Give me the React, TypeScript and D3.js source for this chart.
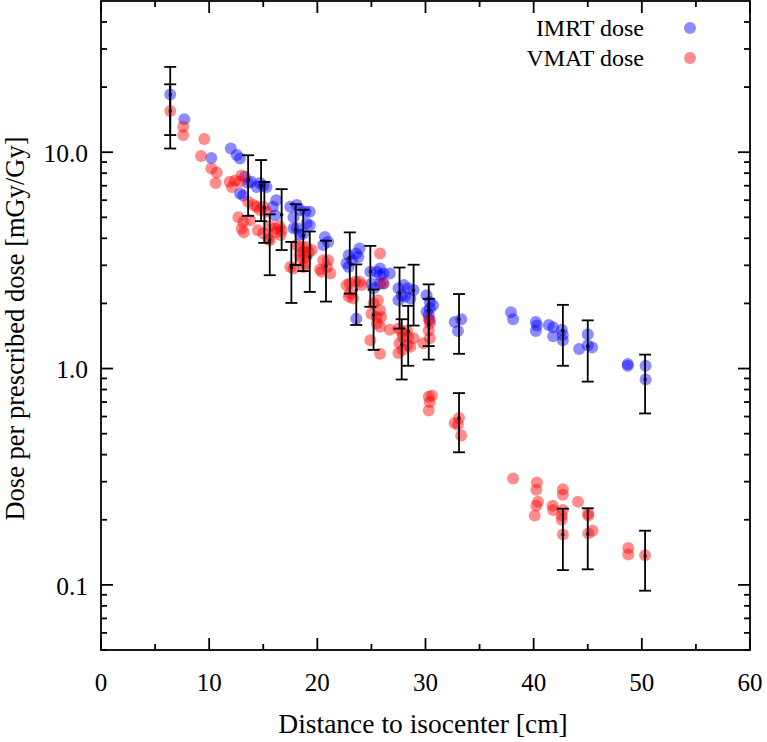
import React from "react";
import * as d3 from "d3";

// IMRT dose points [distance cm, dose mGy/Gy]
const imrtX = [6.4, 7.7, 10.2, 12.0, 12.55, 12.85, 13.3, 13.6, 13.9, 14.4, 14.7, 15.0, 15.3, 12.85, 13.15, 16.2, 15.9, 16.1, 17.5, 17.8, 18.1, 18.4, 18.9, 19.3, 18.1, 17.8, 19.0, 18.4, 19.3, 18.7, 20.7, 21.0, 20.55,
  22.9, 23.2, 23.6, 23.9, 23.8, 22.7, 22.9, 23.6,
  24.9, 25.5, 25.8, 25.8, 26.1, 26.7, 25.0, 25.2, 25.8, 26.1,
  27.5, 28.0, 28.4, 28.9, 27.8, 28.1, 28.6, 27.5,
  30.1, 30.4, 30.7, 30.1, 30.3, 30.4, 30.4,
  32.7, 33.3, 33.0, 37.9, 38.1,
  40.2, 40.3, 40.2, 41.4, 41.8, 41.8, 42.6, 42.7, 42.7,
  44.2, 45.0, 45.0, 45.4, 48.7, 48.7, 50.35, 50.35];
const imrtY = [18.5, 14.2, 9.4, 10.4, 9.7, 9.35, 7.7, 7.2, 7.3, 6.9, 7.2, 7.0, 6.9, 6.45, 6.3, 6.0, 5.6, 5.1, 5.6, 5.0, 5.7, 5.4, 5.3, 5.3, 4.45, 4.45, 4.7, 4.15, 4.6, 4.2, 4.06, 3.85, 3.72,
  3.34, 3.17, 3.40, 3.59, 3.28, 3.06, 2.95, 1.70,
  2.80, 2.80, 2.90, 2.70, 2.75, 2.75, 2.47, 2.35, 2.47, 2.47,
  2.35, 2.43, 2.35, 2.31, 2.18, 2.15, 2.11, 2.07,
  2.18, 2.03, 1.96, 1.83, 1.77, 1.67, 1.90,
  1.64, 1.69, 1.49, 1.82, 1.69,
  1.64, 1.58, 1.49, 1.59, 1.55, 1.41, 1.51, 1.43, 1.35,
  1.23, 1.44, 1.28, 1.25, 1.05, 1.03, 1.03, 0.89];

// VMAT dose points
const vmatX = [6.4, 7.6, 7.6, 9.55, 9.25, 10.2, 10.7, 10.6,
  11.9, 12.1, 12.4, 12.85, 13.0,
  13.6, 14.1, 14.4, 14.7, 15.0, 15.3,
  12.7, 13.15, 13.0, 13.8, 13.2,
  14.5, 15.0, 15.6, 16.1, 16.2, 15.5, 15.6,
  16.5, 16.7, 16.6,
  18.1, 18.55, 19.0, 18.7, 19.2, 18.4, 19.0, 19.5, 18.55,
  17.5, 17.8, 18.7, 18.9,
  20.4, 20.9, 21.2, 21.0, 20.55, 20.25,
  22.7, 23.0, 23.5, 23.9, 24.1, 22.9, 23.3, 23.0,
  25.8, 26.1,
  25.2, 25.6, 25.8, 25.0, 25.5, 25.9, 25.5, 25.8, 24.9, 25.8,
  26.7, 27.5, 27.8, 28.3, 27.9, 28.4, 28.9, 27.6, 28.3, 28.6, 27.5, 27.9,
  29.8, 30.4, 30.3, 30.4, 30.3,
  30.3, 30.6, 30.4, 30.3,
  33.1, 32.7, 33.0, 33.3,
  38.1, 40.3, 40.25, 40.4, 40.25, 40.1, 41.75, 41.8, 42.7, 42.7, 42.7, 42.6, 42.6, 42.7, 44.1,
  45.05, 45.05, 45.05, 45.45, 48.75, 48.75, 50.3];
const vmatY = [15.5, 13.1, 12.0, 11.5, 9.6, 8.4, 8.06, 7.2,
  7.3, 6.9, 7.4, 7.3, 7.8,
  5.9, 5.7, 5.6, 5.4, 5.6, 5.3,
  5.0, 4.76, 4.43, 4.85, 4.26,
  4.36, 4.21, 4.55, 4.44, 4.28, 3.99, 3.92,
  4.55, 4.36, 4.14,
  3.72, 3.65, 3.65, 3.46, 3.46, 3.34, 3.28, 3.53, 3.23,
  2.95, 2.90, 2.95, 3.06,
  2.80, 2.95, 2.75, 3.17, 3.17, 2.87,
  2.43, 2.47, 2.52, 2.52, 2.43, 2.15, 2.11, 2.23,
  3.40, 2.47,
  2.0, 2.07, 1.86, 1.79, 1.73, 1.73, 1.62, 1.56, 1.35, 1.17,
  1.51, 1.53, 1.48, 1.50, 1.40, 1.40, 1.38, 1.31, 1.28, 1.26, 1.18, 1.22,
  1.31, 1.38, 1.50, 1.62, 1.70,
  0.74, 0.75, 0.70, 0.64,
  0.59, 0.56, 0.55, 0.49,
  0.31, 0.297, 0.275, 0.242, 0.232, 0.209, 0.232, 0.222, 0.277, 0.261, 0.222, 0.209, 0.200, 0.171, 0.242,
  0.214, 0.209, 0.173, 0.178, 0.148, 0.138, 0.137];

// Error bars: position, mean, half-width (linear)
const errX = [6.4, 6.4, 13.6, 14.8, 15.1, 15.6, 16.7, 17.6, 18.0, 18.7, 19.3, 20.8, 23.0, 23.6, 24.9,
  25.2, 27.6, 27.8, 28.4, 28.9, 30.3, 30.3, 33.1, 33.1, 42.7, 42.7, 45.0, 45.0, 50.3, 50.3];
const errY = [18.4, 15.5, 7.38, 7.0, 5.55, 3.93, 5.14, 2.93, 4.38, 4.12, 3.28, 2.97, 3.24, 2.31, 2.81,
  1.77, 2.23, 1.29, 1.49, 2.30, 1.86, 1.60, 1.69, 0.59, 1.50, 0.171, 1.27, 0.172, 0.89, 0.136];
const errD = [6.4, 5.1, 2.3, 2.2, 1.74, 1.23, 1.61, 0.92, 1.37, 1.30, 1.02, 0.93, 1.02, 0.72, 0.88,
  0.55, 0.70, 0.40, 0.46, 0.72, 0.59, 0.50, 0.52, 0.18, 0.47, 0.054, 0.40, 0.054, 0.27, 0.042];

const xTicks = [0, 10, 20, 30, 40, 50, 60];
const xMinor = [5, 15, 25, 35, 45, 55];
const yTicks = [0.1, 1, 10];
const yTickLabels = ["0.1", "1.0", "10.0"];
const seriesNames = ["IMRT dose", "VMAT dose"];
const seriesColors = ["#0000ff", "#ff0000"];

export default function App() {
  const W = 767, H = 742;
  const L = 101, R = 750, T = 1, B = 650;
  const x = d3.scaleLinear().domain([0, 60]).range([L, R]);
  const y = d3.scaleLog().domain([0.05, 50]).range([B, T]);
  const font = "'Liberation Serif', 'Times New Roman', serif";
  const yMinor: number[] = [];
  [0.01, 0.1, 1, 10].forEach((dec) => {
    for (let k = 2; k <= 9; k++) {
      const v = dec * k;
      if (v >= 0.05 && v < 50) yMinor.push(v);
    }
  });
  const sw = 1.8;
  const major = 12, minor = 6;
  const cap = 6;
  const op = 0.45;
  const r = 6;

  return (
    <svg width={W} height={H} style={{ position: "absolute", left: 0, top: 0, background: "#fff" }} fontFamily={font}>
      <rect x={0} y={0} width={W} height={H} fill="#fff" />
      {/* points */}
      {imrtX.map((v, i) => (
        <circle key={"b" + i} cx={x(v)} cy={y(imrtY[i])} r={r} fill={seriesColors[0]} fillOpacity={op} />
      ))}
      {vmatX.map((v, i) => (
        <circle key={"r" + i} cx={x(v)} cy={y(vmatY[i])} r={r} fill={seriesColors[1]} fillOpacity={op} />
      ))}
      {/* error bars */}
      {errX.map((v, i) => {
        const cx = x(v);
        const y1 = y(errY[i] + errD[i]);
        const y0 = y(errY[i] - errD[i]);
        return (
          <g key={"e" + i} stroke="#000" strokeWidth={1.8}>
            <line x1={cx} x2={cx} y1={y1} y2={y0} />
            <line x1={cx - cap} x2={cx + cap} y1={y1} y2={y1} />
            <line x1={cx - cap} x2={cx + cap} y1={y0} y2={y0} />
            <rect x={cx - 1.5} y={y(errY[i]) - 1.5} width={3} height={3} fill="#000" stroke="none" />
          </g>
        );
      })}
      {/* frame */}
      <rect x={L} y={T} width={R - L} height={B - T} fill="none" stroke="#000" strokeWidth={sw} />
      {/* x ticks */}
      {xTicks.map((t) => (
        <g key={"xt" + t} stroke="#000" strokeWidth={sw}>
          <line x1={x(t)} x2={x(t)} y1={B} y2={B - major} />
          <line x1={x(t)} x2={x(t)} y1={T} y2={T + major} />
        </g>
      ))}
      {xMinor.map((t) => (
        <g key={"xm" + t} stroke="#000" strokeWidth={sw}>
          <line x1={x(t)} x2={x(t)} y1={B} y2={B - minor} />
          <line x1={x(t)} x2={x(t)} y1={T} y2={T + minor} />
        </g>
      ))}
      {xTicks.map((t) => (
        <text key={"xl" + t} x={x(t)} y={691} fontSize={25} textAnchor="middle" fill="#000">
          {t}
        </text>
      ))}
      {/* y ticks */}
      {yTicks.map((t, i) => (
        <g key={"yt" + t}>
          <line x1={L} x2={L + major} y1={y(t)} y2={y(t)} stroke="#000" strokeWidth={sw} />
          <line x1={R} x2={R - major} y1={y(t)} y2={y(t)} stroke="#000" strokeWidth={sw} />
          <text x={88} y={y(t)} dy="0.38em" fontSize={25.5} textAnchor="end" fill="#000">
            {yTickLabels[i]}
          </text>
        </g>
      ))}
      {yMinor.map((t) => (
        <g key={"ym" + t} stroke="#000" strokeWidth={sw}>
          <line x1={L} x2={L + minor} y1={y(t)} y2={y(t)} />
          <line x1={R} x2={R - minor} y1={y(t)} y2={y(t)} />
        </g>
      ))}
      {/* axis titles */}
      <text x={423} y={733} fontSize={27.5} textAnchor="middle" fill="#000">
        Distance to isocenter [cm]
      </text>
      <text transform={`translate(24, ${(T + B) / 2 + 3}) rotate(-90)`} fontSize={26.5} textAnchor="middle" fill="#000">
        Dose per prescribed dose [mGy/Gy]
      </text>
      {/* legend */}
      {seriesNames.map((n, i) => (
        <g key={"lg" + i}>
          <text x={644} y={28 + i * 30} dy="0.33em" fontSize={24} textAnchor="end" fill="#000">
            {n}
          </text>
          <circle cx={690} cy={28 + i * 30} r={r} fill={seriesColors[i]} fillOpacity={op} />
        </g>
      ))}
    </svg>
  );
}
